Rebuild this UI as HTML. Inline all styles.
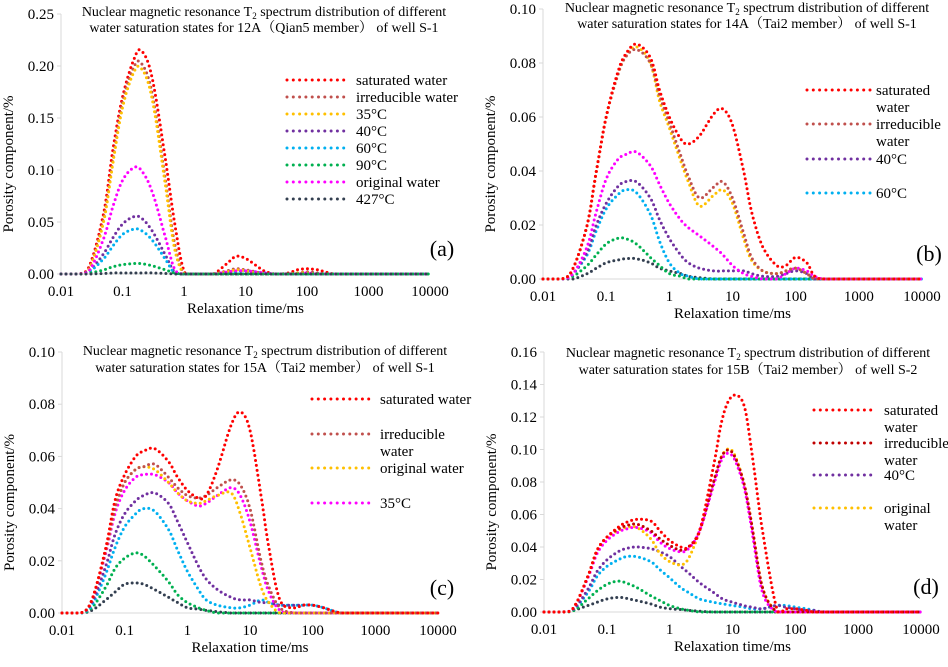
<!DOCTYPE html>
<html><head><meta charset="utf-8"><style>
html,body{margin:0;padding:0;background:#fff}
svg text{font-family:"Liberation Serif","Noto Serif CJK SC",serif;fill:#000}
</style></head><body>
<svg id="chart" width="948" height="662" viewBox="0 0 948 662" xmlns="http://www.w3.org/2000/svg" font-family="Liberation Serif, serif"></svg>
<script>
const T = [0.01,0.02,0.03,0.05,0.07,0.1,0.15,0.2,0.3,0.5,0.7,1,1.5,2,3,5,7,10,15,20,30,50,70,100,150,200,300,1000,10000];
const xTicks = ["0.01","0.1","1","10","100","1000","10000"];
// Panel a
const aSat   = [0,0,0.01,0.06,0.12,0.17,0.205,0.215,0.19,0.11,0.05,0.003,0,0,0,0.01,0.017,0.015,0.008,0.003,0,0.001,0.004,0.005,0.004,0.002,0,0,0];
const aIrr   = [0,0,0.008,0.055,0.11,0.165,0.198,0.203,0.175,0.09,0.03,0,0,0,0,0.003,0.005,0.004,0.002,0,0,0,0.001,0.002,0.001,0,0,0,0];
const a35    = [0,0,0.007,0.052,0.107,0.16,0.193,0.198,0.17,0.085,0.025,0,0,0,0,0.002,0.004,0.003,0.001,0,0,0,0.001,0.001,0,0,0,0,0];
const a40    = [0,0,0.004,0.02,0.035,0.048,0.055,0.054,0.042,0.018,0.002,0,0,0,0,0,0,0,0,0,0,0,0,0,0,0,0,0,0];
const a60    = [0,0,0.003,0.015,0.027,0.038,0.043,0.042,0.033,0.014,0.001,0,0,0,0,0.001,0.002,0.003,0.002,0.001,0,0,0,0,0,0,0,0,0];
const a90    = [0,0,0.001,0.004,0.007,0.009,0.01,0.01,0.008,0.004,0.001,0,0,0,0,0,0,0,0,0,0,0,0,0,0,0,0,0,0];
const aOrig  = [0,0,0.005,0.035,0.065,0.09,0.102,0.1,0.08,0.035,0.005,0,0,0,0,0.002,0.003,0.003,0.002,0.001,0,0,0,0.001,0,0,0,0,0];
const a427   = [0,0,0,0.0005,0.001,0.001,0.001,0.001,0.001,0.0005,0,0,0,0,0,0,0,0,0,0,0,0,0,0,0,0,0,0,0];
// Panel b
const bSat   = [0,0,0.004,0.02,0.04,0.06,0.076,0.083,0.087,0.082,0.07,0.06,0.052,0.05,0.053,0.061,0.063,0.057,0.04,0.025,0.012,0.005,0.005,0.008,0.006,0.001,0,0,0];
const bIrr   = [0,0,0.004,0.02,0.04,0.06,0.075,0.082,0.085,0.08,0.068,0.058,0.046,0.038,0.03,0.034,0.036,0.03,0.017,0.008,0.003,0.002,0.003,0.004,0.002,0,0,0,0];
const bOra   = [0,0,0.004,0.02,0.04,0.06,0.075,0.082,0.086,0.08,0.066,0.056,0.044,0.036,0.027,0.031,0.033,0.028,0.015,0.007,0.003,0.002,0.003,0.004,0.002,0,0,0,0];
const bMag   = [0,0,0.002,0.012,0.025,0.037,0.044,0.046,0.047,0.042,0.035,0.028,0.022,0.019,0.016,0.012,0.009,0.005,0.002,0.001,0,0,0.002,0.004,0.003,0.001,0,0,0];
const bPur   = [0,0,0.002,0.01,0.02,0.028,0.034,0.036,0.036,0.03,0.022,0.015,0.009,0.006,0.004,0.003,0.003,0.003,0.003,0.002,0.001,0.001,0.002,0.003,0.002,0,0,0,0];
const bCya   = [0,0,0.002,0.009,0.018,0.026,0.031,0.033,0.032,0.024,0.014,0.006,0.002,0.001,0,0,0,0,0,0,0,0,0,0,0,0,0,0,0];
const bGre   = [0,0,0.001,0.005,0.009,0.013,0.015,0.015,0.013,0.008,0.005,0.002,0.001,0,0,0,0,0,0,0,0,0,0,0,0,0,0,0,0];
const bNav   = [0,0,0,0.002,0.004,0.006,0.007,0.0075,0.0075,0.006,0.004,0.003,0.002,0.001,0.0005,0,0,0,0,0,0,0,0,0,0,0,0,0,0];
// Panel c
const cSat   = [0,0,0.005,0.025,0.043,0.053,0.06,0.062,0.063,0.058,0.052,0.047,0.044,0.045,0.055,0.072,0.077,0.07,0.045,0.025,0.005,0.002,0.003,0.003,0.002,0.001,0,0,0];
const cIrr   = [0,0,0.005,0.024,0.04,0.05,0.055,0.056,0.057,0.052,0.048,0.045,0.044,0.045,0.048,0.051,0.049,0.04,0.02,0.01,0.002,0,0,0,0,0,0,0,0];
const cOra   = [0,0,0.005,0.024,0.04,0.05,0.055,0.056,0.055,0.05,0.046,0.043,0.042,0.043,0.045,0.046,0.038,0.025,0.01,0.004,0,0,0,0,0,0,0,0,0];
const cMag   = [0,0,0.005,0.023,0.038,0.047,0.052,0.053,0.053,0.05,0.046,0.043,0.041,0.042,0.045,0.048,0.045,0.035,0.018,0.008,0.001,0,0,0,0,0,0,0,0];
const cPur   = [0,0,0.004,0.018,0.03,0.038,0.043,0.045,0.046,0.042,0.035,0.027,0.018,0.013,0.009,0.006,0.005,0.005,0.004,0.004,0.003,0.003,0.003,0.003,0.002,0.001,0,0,0];
const cCya   = [0,0,0.003,0.015,0.025,0.033,0.038,0.04,0.039,0.032,0.024,0.016,0.009,0.005,0.003,0.002,0.002,0.003,0.005,0.004,0.003,0.003,0.003,0.003,0.002,0.001,0,0,0];
const cGre   = [0,0,0.002,0.01,0.017,0.021,0.023,0.022,0.018,0.012,0.007,0.004,0.002,0.001,0,0,0,0,0,0,0,0,0,0,0,0,0,0,0];
const cNav   = [0,0,0.001,0.005,0.008,0.011,0.0115,0.011,0.009,0.006,0.004,0.002,0.0015,0.001,0.0005,0,0,0,0,0,0,0,0,0,0,0,0,0,0];
// Panel d
const dSat   = [0,0,0.003,0.022,0.038,0.046,0.052,0.055,0.057,0.056,0.05,0.044,0.04,0.04,0.05,0.09,0.12,0.133,0.128,0.1,0.05,0.003,0.002,0.002,0.001,0,0,0,0];
const dIrr   = [0,0,0.003,0.022,0.038,0.046,0.051,0.053,0.054,0.05,0.045,0.041,0.038,0.04,0.05,0.08,0.097,0.098,0.08,0.055,0.015,0,0,0,0,0,0,0,0];
const dOra   = [0,0,0.003,0.022,0.038,0.046,0.05,0.052,0.052,0.045,0.036,0.031,0.029,0.033,0.05,0.08,0.097,0.099,0.08,0.055,0.015,0,0,0,0,0,0,0,0];
const dMag   = [0,0,0.003,0.021,0.036,0.044,0.049,0.051,0.052,0.049,0.043,0.039,0.037,0.039,0.05,0.078,0.095,0.096,0.078,0.052,0.012,0,0,0,0,0,0,0,0];
const dPur   = [0,0,0.002,0.014,0.025,0.032,0.037,0.039,0.04,0.039,0.037,0.034,0.028,0.024,0.018,0.012,0.008,0.006,0.004,0.003,0.002,0.004,0.003,0.002,0.001,0.001,0,0,0];
const dCya   = [0,0,0.002,0.012,0.022,0.028,0.032,0.034,0.034,0.031,0.026,0.021,0.015,0.012,0.008,0.006,0.005,0.004,0.003,0.002,0.002,0.004,0.004,0.003,0.002,0.001,0,0,0];
const dGre   = [0,0,0.001,0.008,0.013,0.017,0.019,0.018,0.015,0.01,0.007,0.004,0.002,0.001,0,0,0,0,0,0,0,0,0,0,0,0,0,0,0];
const dNav   = [0,0,0.001,0.004,0.006,0.008,0.009,0.0085,0.007,0.005,0.003,0.002,0.0015,0.001,0.0005,0,0,0,0,0,0,0,0,0,0,0,0,0,0];

const aTicks = ["0.00","0.05","0.10","0.15","0.20","0.25"];
const bTicks = ["0.00","0.02","0.04","0.06","0.08","0.10"];
const cTicks = ["0.00","0.02","0.04","0.06","0.08","0.10"];
const dTicks = ["0.00","0.02","0.04","0.06","0.08","0.10","0.12","0.14","0.16"];

const C = {sat:"#ff0000",irr:"#c0504d",irr2:"#c00000",ora:"#ffc000",pur:"#7030a0",cya:"#00b0f0",gre:"#00b050",mag:"#ff00ff",nav:"#333f50"};
const NS = "http://www.w3.org/2000/svg";
const FF = '"Liberation Serif", "Noto Serif CJK SC", serif';
const svg = document.getElementById("chart");
function el(tag, attrs, parent){ const e=document.createElementNS(NS,tag); for(const k in attrs) e.setAttribute(k,attrs[k]); if(tag==="text") e.style.fontFamily=FF; (parent||svg).appendChild(e); return e; }

const panels = [
 {id:"a", x0:61,x1:430,y0:274,y1:14,ticks:aTicks,ymax:0.25,label:"(a)",lbx:442,lx:[287,350,356],
  title:["Nuclear magnetic resonance T","2"," spectrum distribution of different","water saturation states for 12A（Qian5 member） of well S-1"],tx:264,ty:[16,32],
  series:[[aSat,C.sat],[aIrr,C.irr],[a35,C.ora],[a40,C.pur],[a60,C.cya],[a90,C.gre],[aOrig,C.mag],[a427,C.nav]],
  legend:[[C.sat,["saturated water"],80],[C.irr,["irreducible water"],97],[C.ora,["35°C"],114],[C.pur,["40°C"],131],[C.cya,["60°C"],148],[C.gre,["90°C"],165],[C.mag,["original water"],182],[C.nav,["427°C"],199]]},
 {id:"b", x0:543,x1:922,y0:279,y1:9,ticks:bTicks,ymax:0.10,label:"(b)",lbx:929,lx:[807,871,876],
  title:["Nuclear magnetic resonance T","2"," spectrum distribution of different","water saturation states for 14A（Tai2 member） of well S-1"],tx:747,ty:[12,28],
  series:[[bNav,C.nav],[bGre,C.gre],[bCya,C.cya],[bPur,C.pur],[bMag,C.mag],[bOra,C.ora],[bIrr,C.irr],[bSat,C.sat]],
  legend:[[C.sat,["saturated","water"],90],[C.irr,["irreducible","water"],124],[C.pur,["40°C"],159],[C.cya,["60°C"],193]]},
 {id:"c", x0:62,x1:438,y0:613,y1:352,ticks:cTicks,ymax:0.10,label:"(c)",lbx:442,lx:[312,374,380],
  title:["Nuclear magnetic resonance T","2"," spectrum distribution of different","water saturation states for 15A（Tai2 member） of well S-1"],tx:265,ty:[355,372],
  series:[[cNav,C.nav],[cGre,C.gre],[cCya,C.cya],[cPur,C.pur],[cMag,C.mag],[cOra,C.ora],[cIrr,C.irr],[cSat,C.sat]],
  legend:[[C.sat,["saturated water"],399],[C.irr,["irreducible","water"],434],[C.ora,["original water"],468],[C.mag,["35°C"],503]]},
 {id:"d", x0:544,x1:921,y0:612,y1:352,ticks:dTicks,ymax:0.16,label:"(d)",lbx:926,lx:[814,877,884],
  title:["Nuclear magnetic resonance T","2"," spectrum distribution of different","water saturation states for 15B（Tai2 member） of well S-2"],tx:748,ty:[357,374],
  series:[[dNav,C.nav],[dGre,C.gre],[dCya,C.cya],[dPur,C.pur],[dOra,C.ora],[dMag,C.mag],[dIrr,C.irr2],[dSat,C.sat]],
  legend:[[C.sat,["saturated","water"],410],[C.irr2,["irreducible","water"],443],[C.pur,["40°C"],475],[C.ora,["original","water"],508]]}
];

function catmull(pts, n){
  const out=[];
  for(let i=0;i<pts.length-1;i++){
    const p0=pts[Math.max(0,i-1)],p1=pts[i],p2=pts[i+1],p3=pts[Math.min(pts.length-1,i+2)];
    for(let k=0;k<n;k++){
      const t=k/n,t2=t*t,t3=t2*t;
      const f=(a,b,c,d)=>0.5*((2*b)+(-a+c)*t+(2*a-5*b+4*c-d)*t2+(-a+3*b-3*c+d)*t3);
      out.push([f(p0[0],p1[0],p2[0],p3[0]),f(p0[1],p1[1],p2[1],p3[1])]);
    }
  }
  out.push(pts[pts.length-1]);
  return out;
}

panels.forEach(p=>{
  const g = el("g",{});
  
  
  const xs = v => p.x0 + (Math.log10(v)+2)/6*(p.x1-p.x0);
  const ys = v => p.y0 - v/p.ymax*(p.y0-p.y1);
  const ax = el("line",{x1:p.x0,y1:p.y1,x2:p.x0,y2:p.y0,stroke:"#d9d9d9","stroke-width":1},g);
  
  
  const xl = el("line",{x1:p.x0,y1:p.y0,x2:p.x1,y2:p.y0,stroke:"#d9d9d9","stroke-width":1},g);
  
  
  const nT = p.ticks.length-1;
  p.ticks.forEach((t,i)=>{
    const v = p.ymax*i/nT, y = ys(v);
    el("line",{x1:p.x0-4,y1:y,x2:p.x0,y2:y,stroke:"#d9d9d9"},g);
    const tx = el("text",{x:p.x0-7,y:y+5,"text-anchor":"end","font-size":15},g);
    tx.textContent = t;
    
    
  });
  xTicks.forEach(t=>{
    const x = xs(parseFloat(t));
    const tx = el("text",{x:x,y:p.y0+22,"text-anchor":"middle","font-size":15},g);
    tx.textContent = t;
    
    
  });
  const xt = el("text",{x:(p.x0+p.x1)/2,y:p.y0+39,"text-anchor":"middle","font-size":15},g);
  xt.textContent = "Relaxation time/ms";
  
  
  const yc = (p.y0+p.y1)/2+20, yx = p.x0-48;
  const yt = el("text",{x:yx,y:yc,"text-anchor":"middle","font-size":15,transform:`rotate(-90 ${yx} ${yc})`},g);
  yt.textContent = "Porosity component/%";
  
  
  const t1 = el("text",{x:p.tx,y:p.ty[0],"text-anchor":"middle","font-size":14},g);
  
  
  const s1=el("tspan",{},t1); s1.textContent=p.title[0];
  const s2=el("tspan",{"font-size":9,dy:3},t1); s2.textContent=p.title[1];
  const s3=el("tspan",{dy:-3},t1); s3.textContent=p.title[2];
  const t2 = el("text",{x:p.tx,y:p.ty[1],"text-anchor":"middle","font-size":14},g);
  t2.textContent = p.title[3];
  
  
  p.series.forEach(([vals,col])=>{
    const pts = T.map((t,i)=>[Math.log10(t),vals[i]]);
    const sm = catmull(pts,12);
    const d = sm.map((q,i)=>(i?"L":"M")+(p.x0+(q[0]+2)/6*(p.x1-p.x0)).toFixed(1)+","+ys(Math.max(0,q[1])).toFixed(1)).join("");
    const path = el("path",{d:d,fill:"none",stroke:col,"stroke-width":3,"stroke-linecap":"round","stroke-dasharray":"0 5"},g);
    
    
  });
  p.legend.forEach(([col,lines,y])=>{
    const ln = el("line",{x1:p.lx[0],y1:y,x2:p.lx[1],y2:y,stroke:col,"stroke-width":3,"stroke-linecap":"round","stroke-dasharray":"0 6.3"},g);
    
    
    lines.forEach((s,i)=>{
      const lt = el("text",{x:p.lx[2],y:y+5+i*17,"font-size":15},g);
      lt.textContent = s;
      
      
    });
  });
  const lb = el("text",{x:p.lbx,y:p.y0-18,"text-anchor":"middle","font-size":22},g);
  lb.textContent = p.label;
  
  
});
</script>
</body></html>
